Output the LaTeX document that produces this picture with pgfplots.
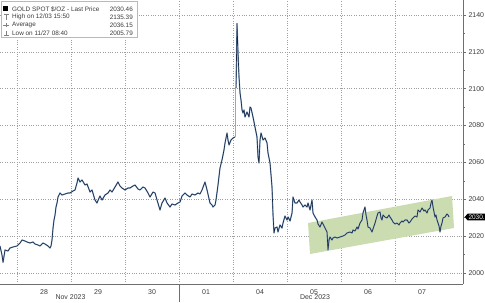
\documentclass[border=0pt]{standalone}
\usepackage{pgfplots}
\pgfplotsset{compat=1.18}
\usepackage{fontspec}
\setmainfont{Liberation Sans}
\usetikzlibrary{shapes.symbols}
\definecolor{bandgreen}{RGB}{203,221,176}
\definecolor{linedark}{RGB}{25,38,60}
\definecolor{lineblue}{RGB}{70,120,180}
\definecolor{axisgray}{RGB}{110,110,110}
\definecolor{labgray}{RGB}{60,60,60}
\begin{document}
\begin{tikzpicture}[x=1bp,y=1bp]
\path[use as bounding box] (0,0) rectangle (485,302);
\begin{axis}[
  at={(0bp,18bp)}, anchor=south west,
  scale only axis, width=463bp, height=284bp,
  xmin=-0.315, xmax=8.259, ymin=1994.03, ymax=2148.13,
  axis x line*=bottom, axis y line*=right,
  axis line style={draw=axisgray, line width=0.6pt},
  xtick={0.5,1.5,2.5,3.5,4.5,5.5,6.5,7.5},
  xticklabels={28,29,30,01,04,05,06,07},
  x tick style={draw=none},
  minor xtick={0,1,2,3,4,5,6,7},
  xminorgrids=true,
  ytick={2000,2020,2040,2060,2080,2100,2120,2140},
  minor ytick={2010,2030,2050,2070,2090,2110,2130},
  ymajorgrids=true,
  major grid style={dotted, gray!75, line width=0.6pt},
  minor grid style={dotted, gray!75, line width=0.6pt},
  tick align=outside, major tick length=3bp, minor tick length=1.5bp,
  y tick style={draw=axisgray, line width=0.6pt},
  yticklabel pos=right,
  /pgf/number format/1000 sep={},
  /pgf/number format/assume math mode=true,
  tick label style={font=\fontsize{7}{8}\selectfont, text=labgray},
  xticklabel style={yshift=1bp},
  yticklabel style={xshift=-1bp},
]
\addplot[fill=bandgreen, draw=none, forget plot] coordinates {(5.389,2027.13) (8.056,2041.78) (8.093,2024.42) (5.426,2010.31)} -- cycle;

\pgfplotsset{every axis plot/.append style={line join=round}}
% main series, first part
\addplot[lineblue!70, line width=1.3pt, forget plot] coordinates {
(-0.315,2014.65) (-0.278,2009.77) (-0.259,2005.79) (-0.222,2012.48) (-0.167,2011.94) (-0.130,2013.57) (-0.074,2014.11) (0,2014.65) (0.056,2016.28) (0.093,2017.91) (0.148,2017.37) (0.185,2016.82) (0.241,2016.28) (0.296,2016.82) (0.333,2015.74) (0.389,2015.2) (0.426,2014.65) (0.481,2016.28) (0.519,2015.74) (0.574,2014.65) (0.611,2013.57) (0.630,2014.65) (0.648,2017.91) (0.667,2024.42) (0.685,2028.76) (0.704,2031.47) (0.722,2035.81) (0.741,2037.98) (0.759,2041.24) (0.796,2043.41) (0.833,2042.32) (0.889,2042.87) (0.944,2043.41) (0.981,2043.41) (1.037,2044.5) (1.074,2045.04) (1.111,2048.84) (1.130,2051.55) (1.167,2049.38) (1.204,2050.46) (1.259,2047.75) (1.296,2048.29) (1.352,2043.95) (1.389,2045.04) (1.444,2039.61) (1.481,2037.98) (1.519,2040.7) (1.537,2041.78) (1.574,2039.61) (1.630,2042.32) (1.685,2043.41) (1.722,2045.04) (1.759,2043.95) (1.815,2046.67) (1.870,2049.38) (1.907,2047.21) (1.944,2046.12) (2.0,2045.04) (2.056,2046.12) (2.093,2046.12) (2.148,2047.21) (2.185,2047.75) (2.241,2045.58) (2.278,2045.04) (2.333,2046.67) (2.370,2046.12) (2.426,2043.41) (2.463,2041.24) (2.519,2043.95) (2.556,2043.41) (2.593,2039.61) (2.648,2034.19) (2.685,2037.98) (2.741,2040.7) (2.778,2037.98) (2.833,2035.81) (2.870,2037.44) (2.926,2036.9) (2.981,2037.98) (3.019,2038.53) (3.056,2041.78) (3.111,2043.41) (3.148,2042.32) (3.204,2041.24) (3.241,2042.87) (3.296,2042.32) (3.352,2043.41) (3.389,2042.87) (3.426,2045.04) (3.481,2049.38) (3.519,2045.04) (3.574,2037.98) (3.611,2036.9) (3.630,2035.81) (3.667,2036.9) (3.685,2039.61) (3.722,2047.75) (3.759,2056.97) (3.796,2061.32) (3.833,2066.74) (3.852,2070.54) (3.889,2075.97) (3.907,2072.17) (3.926,2069.45) (3.963,2072.17) (4.0,2073.25) (4.037,2073.8)
};
\addplot[linedark, line width=0.6pt, forget plot] coordinates {
(-0.315,2014.65) (-0.278,2009.77) (-0.259,2005.79) (-0.222,2012.48) (-0.167,2011.94) (-0.130,2013.57) (-0.074,2014.11) (0,2014.65) (0.056,2016.28) (0.093,2017.91) (0.148,2017.37) (0.185,2016.82) (0.241,2016.28) (0.296,2016.82) (0.333,2015.74) (0.389,2015.2) (0.426,2014.65) (0.481,2016.28) (0.519,2015.74) (0.574,2014.65) (0.611,2013.57) (0.630,2014.65) (0.648,2017.91) (0.667,2024.42) (0.685,2028.76) (0.704,2031.47) (0.722,2035.81) (0.741,2037.98) (0.759,2041.24) (0.796,2043.41) (0.833,2042.32) (0.889,2042.87) (0.944,2043.41) (0.981,2043.41) (1.037,2044.5) (1.074,2045.04) (1.111,2048.84) (1.130,2051.55) (1.167,2049.38) (1.204,2050.46) (1.259,2047.75) (1.296,2048.29) (1.352,2043.95) (1.389,2045.04) (1.444,2039.61) (1.481,2037.98) (1.519,2040.7) (1.537,2041.78) (1.574,2039.61) (1.630,2042.32) (1.685,2043.41) (1.722,2045.04) (1.759,2043.95) (1.815,2046.67) (1.870,2049.38) (1.907,2047.21) (1.944,2046.12) (2.0,2045.04) (2.056,2046.12) (2.093,2046.12) (2.148,2047.21) (2.185,2047.75) (2.241,2045.58) (2.278,2045.04) (2.333,2046.67) (2.370,2046.12) (2.426,2043.41) (2.463,2041.24) (2.519,2043.95) (2.556,2043.41) (2.593,2039.61) (2.648,2034.19) (2.685,2037.98) (2.741,2040.7) (2.778,2037.98) (2.833,2035.81) (2.870,2037.44) (2.926,2036.9) (2.981,2037.98) (3.019,2038.53) (3.056,2041.78) (3.111,2043.41) (3.148,2042.32) (3.204,2041.24) (3.241,2042.87) (3.296,2042.32) (3.352,2043.41) (3.389,2042.87) (3.426,2045.04) (3.481,2049.38) (3.519,2045.04) (3.574,2037.98) (3.611,2036.9) (3.630,2035.81) (3.667,2036.9) (3.685,2039.61) (3.722,2047.75) (3.759,2056.97) (3.796,2061.32) (3.833,2066.74) (3.852,2070.54) (3.889,2075.97) (3.907,2072.17) (3.926,2069.45) (3.963,2072.17) (4.0,2073.25) (4.037,2073.8)
};
% weekend gap
\addplot[gray!70, line width=0.8pt, forget plot] coordinates {(4.037,2073.8) (4.037,2100.38)};
% main series, second part
\addplot[lineblue!70, line width=1.3pt, forget plot] coordinates {
(4.056,2100.38) (4.074,2135.39) (4.093,2119.37) (4.111,2106.35) (4.130,2097.67) (4.148,2093.87) (4.167,2088.45) (4.185,2086.82) (4.204,2088.45) (4.222,2084.65) (4.259,2087.36) (4.296,2084.65) (4.315,2090.07) (4.333,2089.53) (4.370,2084.65) (4.407,2079.22) (4.444,2073.8) (4.463,2062.94) (4.481,2059.69) (4.5,2072.17) (4.519,2075.97) (4.556,2072.17) (4.593,2073.25) (4.630,2070.54) (4.648,2065.11) (4.685,2059.69) (4.704,2053.18) (4.722,2046.67) (4.741,2031.47) (4.759,2021.71) (4.778,2024.42) (4.815,2024.96) (4.833,2022.25) (4.870,2026.05) (4.907,2024.42) (4.926,2027.13) (4.963,2030.93) (5.0,2028.76) (5.019,2030.39) (5.056,2028.22) (5.093,2032.56) (5.111,2041.24) (5.148,2037.98) (5.185,2037.98) (5.222,2039.61) (5.241,2038.53) (5.278,2036.9) (5.296,2035.81) (5.333,2036.9) (5.370,2035.81) (5.389,2037.98) (5.426,2034.19) (5.463,2039.61) (5.481,2032.56) (5.519,2030.39) (5.556,2028.76) (5.574,2026.59) (5.611,2024.96) (5.648,2027.67) (5.667,2026.59) (5.704,2024.42) (5.741,2022.25) (5.759,2012.48) (5.778,2017.91) (5.796,2019.54) (5.833,2017.91) (5.852,2018.99) (5.889,2019.54) (5.926,2018.99) (5.981,2019.54) (6.037,2020.08) (6.074,2020.62) (6.111,2021.71) (6.167,2022.25) (6.204,2021.71) (6.222,2023.33) (6.259,2022.79) (6.296,2024.96) (6.315,2023.88) (6.352,2027.13) (6.389,2028.76) (6.407,2032.56) (6.444,2035.81) (6.463,2031.47) (6.481,2028.76) (6.5,2024.96) (6.537,2024.42) (6.574,2022.25) (6.611,2025.5) (6.630,2027.13) (6.667,2030.93) (6.685,2032.56) (6.722,2033.1) (6.741,2029.85) (6.759,2028.76) (6.778,2031.47) (6.815,2030.39) (6.852,2029.85) (6.889,2031.47) (6.907,2030.39) (6.944,2028.76) (6.963,2027.67) (7.0,2026.59) (7.037,2027.13) (7.074,2026.05) (7.093,2027.13) (7.130,2028.22) (7.148,2027.67) (7.185,2028.76) (7.222,2028.76) (7.259,2027.13) (7.278,2027.67) (7.315,2029.3) (7.333,2029.85) (7.370,2030.93) (7.407,2030.39) (7.426,2034.19) (7.463,2033.1) (7.5,2035.27) (7.537,2033.64) (7.556,2034.19) (7.593,2032.56) (7.611,2034.19) (7.648,2035.27) (7.667,2037.98) (7.685,2039.61) (7.704,2035.81) (7.741,2030.39) (7.759,2031.47) (7.778,2028.76) (7.815,2025.5) (7.833,2022.25) (7.852,2025.5) (7.870,2027.13) (7.889,2029.85) (7.926,2030.39) (7.963,2032.02) (7.981,2031.47) (8.0,2030.46)
};
\addplot[linedark, line width=0.6pt, forget plot] coordinates {
(4.056,2100.38) (4.074,2135.39) (4.093,2119.37) (4.111,2106.35) (4.130,2097.67) (4.148,2093.87) (4.167,2088.45) (4.185,2086.82) (4.204,2088.45) (4.222,2084.65) (4.259,2087.36) (4.296,2084.65) (4.315,2090.07) (4.333,2089.53) (4.370,2084.65) (4.407,2079.22) (4.444,2073.8) (4.463,2062.94) (4.481,2059.69) (4.5,2072.17) (4.519,2075.97) (4.556,2072.17) (4.593,2073.25) (4.630,2070.54) (4.648,2065.11) (4.685,2059.69) (4.704,2053.18) (4.722,2046.67) (4.741,2031.47) (4.759,2021.71) (4.778,2024.42) (4.815,2024.96) (4.833,2022.25) (4.870,2026.05) (4.907,2024.42) (4.926,2027.13) (4.963,2030.93) (5.0,2028.76) (5.019,2030.39) (5.056,2028.22) (5.093,2032.56) (5.111,2041.24) (5.148,2037.98) (5.185,2037.98) (5.222,2039.61) (5.241,2038.53) (5.278,2036.9) (5.296,2035.81) (5.333,2036.9) (5.370,2035.81) (5.389,2037.98) (5.426,2034.19) (5.463,2039.61) (5.481,2032.56) (5.519,2030.39) (5.556,2028.76) (5.574,2026.59) (5.611,2024.96) (5.648,2027.67) (5.667,2026.59) (5.704,2024.42) (5.741,2022.25) (5.759,2012.48) (5.778,2017.91) (5.796,2019.54) (5.833,2017.91) (5.852,2018.99) (5.889,2019.54) (5.926,2018.99) (5.981,2019.54) (6.037,2020.08) (6.074,2020.62) (6.111,2021.71) (6.167,2022.25) (6.204,2021.71) (6.222,2023.33) (6.259,2022.79) (6.296,2024.96) (6.315,2023.88) (6.352,2027.13) (6.389,2028.76) (6.407,2032.56) (6.444,2035.81) (6.463,2031.47) (6.481,2028.76) (6.5,2024.96) (6.537,2024.42) (6.574,2022.25) (6.611,2025.5) (6.630,2027.13) (6.667,2030.93) (6.685,2032.56) (6.722,2033.1) (6.741,2029.85) (6.759,2028.76) (6.778,2031.47) (6.815,2030.39) (6.852,2029.85) (6.889,2031.47) (6.907,2030.39) (6.944,2028.76) (6.963,2027.67) (7.0,2026.59) (7.037,2027.13) (7.074,2026.05) (7.093,2027.13) (7.130,2028.22) (7.148,2027.67) (7.185,2028.76) (7.222,2028.76) (7.259,2027.13) (7.278,2027.67) (7.315,2029.3) (7.333,2029.85) (7.370,2030.93) (7.407,2030.39) (7.426,2034.19) (7.463,2033.1) (7.5,2035.27) (7.537,2033.64) (7.556,2034.19) (7.593,2032.56) (7.611,2034.19) (7.648,2035.27) (7.667,2037.98) (7.685,2039.61) (7.704,2035.81) (7.741,2030.39) (7.759,2031.47) (7.778,2028.76) (7.815,2025.5) (7.833,2022.25) (7.852,2025.5) (7.870,2027.13) (7.889,2029.85) (7.926,2030.39) (7.963,2032.02) (7.981,2031.47) (8.0,2030.46)
};
\end{axis}
% month separator below axis
\draw[axisgray, line width=0.6pt] (179,0) -- (179,18);
% month labels
\node[font=\fontsize{7}{8}\selectfont, text=labgray] at (70.5,4.5) {Nov 2023};
\node[font=\fontsize{7}{8}\selectfont, text=labgray] at (315,4.5) {Dec 2023};
% last price tag
\node[signal, signal to=west, signal pointer angle=100, fill=black, text=white, inner xsep=1pt, inner ysep=1pt, anchor=west, font=\fontsize{6.5}{7.5}\selectfont] at (464.5,85) {2030.};
% legend box
\draw[gray!55, fill=white, line width=0.5pt] (1,301) rectangle (137,265);
\fill[black] (3,290.5) rectangle (8,295.5);
\draw[gray, line width=0.5pt] (3.5,288) -- (8.5,288) (6,288) -- (6,282.5);
\draw[gray, line width=0.5pt] (3,277) -- (9,277) (6,275) -- (6,279);
\draw[gray, line width=0.5pt] (6,271.5) -- (6,266.5) (3.5,266.5) -- (8.5,266.5);
\begin{scope}[every node/.style={font=\fontsize{6.4}{7.5}\selectfont, text=labgray, inner sep=0pt}]
\node[anchor=west] at (12,293) {GOLD SPOT \$/OZ - Last Price};
\node[anchor=west] at (12,285) {High on 12/03 15:50};
\node[anchor=west] at (12,277) {Average};
\node[anchor=west] at (12,269) {Low on 11/27 08:40};
\node[anchor=east] at (133,293) {2030.46};
\node[anchor=east] at (133,285) {2135.39};
\node[anchor=east] at (133,277) {2036.15};
\node[anchor=east] at (133,269) {2005.79};
\end{scope}
\end{tikzpicture}
\end{document}
